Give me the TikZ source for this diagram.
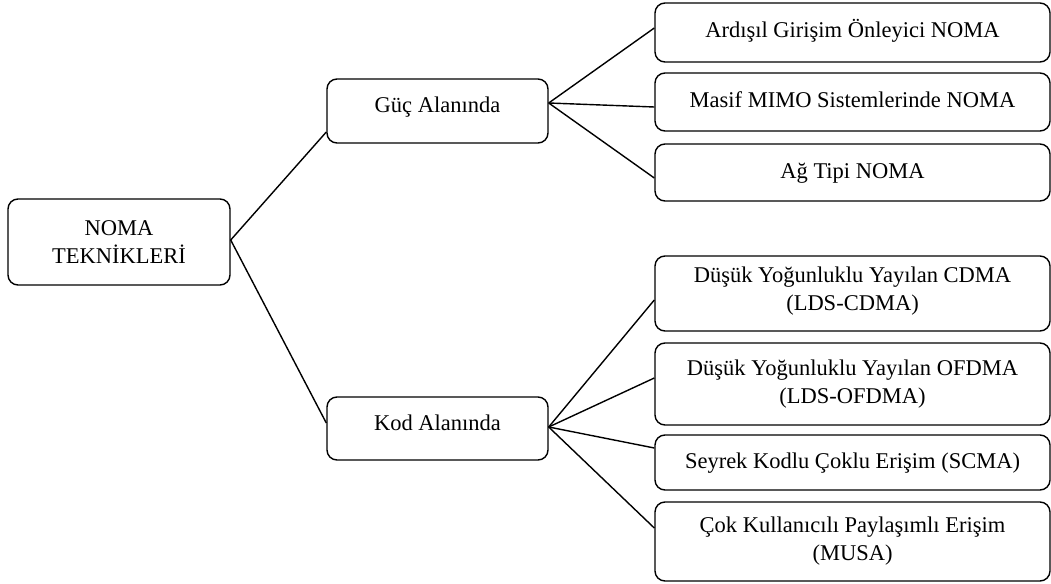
\documentclass[tikz,border=0pt]{standalone}
\usepackage{fontspec}
\setmainfont{Liberation Serif}
\begin{document}
\begin{tikzpicture}[x=1pt,y=-1pt,
  box/.style={draw=black, line width=1.4pt, rounded corners=10pt, inner sep=0pt, align=center, font=\fontsize{22.5}{28}\selectfont},
  mid/.style={box, minimum width=221pt, text height=15pt, text depth=12pt},
  leaf/.style={box, minimum width=395pt},
  one/.style={text height=16pt, text depth=5pt},
  conn/.style={line width=1.4pt}]
\useasboundingbox (0,0) rectangle (1051,583);
% root
\node[box, minimum width=222pt, minimum height=86pt] (root) at (119,242) {NOMA\\TEKNİKLERİ};
% middle level
\node[mid, minimum height=64pt] (guc) at (437.5,111) {Güç Alanında};
\node[mid, minimum height=63pt] (kod) at (437.5,428.5) {Kod Alanında};
% leaves (power domain)
\node[leaf, one, minimum height=59pt] (r1) at (852.5,32.5) {Ardışıl Girişim Önleyici NOMA};
\node[leaf, one, minimum height=58pt] (r2) at (852.5,102) {Masif MIMO Sistemlerinde NOMA};
\node[leaf, one, minimum height=57pt] (r3) at (852.5,172.5) {Ağ Tipi NOMA};
% leaves (code domain)
\node[leaf, minimum height=75pt, text depth=9pt] (r4) at (852.5,293.5) {Düşük Yoğunluklu Yayılan CDMA\\(LDS-CDMA)};
\node[leaf, minimum height=82pt] (r5) at (852.5,384) {Düşük Yoğunluklu Yayılan OFDMA\\(LDS-OFDMA)};
\node[leaf, one, minimum height=55pt] (r6) at (852.5,462.5) {Seyrek Kodlu Çoklu Erişim (SCMA)};
\node[leaf, minimum height=79pt] (r7) at (852.5,541.5) {Çok Kullanıcılı Paylaşımlı Erişim\\(MUSA)};
% connectors
\draw[conn] ([yshift=2pt]root.east) -- ([yshift=-21pt]guc.west);
\draw[conn] ([yshift=2pt]root.east) -- ([yshift=5.5pt]kod.west);
\draw[conn] ([yshift=8pt]guc.east) -- ([yshift=4.5pt]r1.west);
\draw[conn] ([yshift=8pt]guc.east) -- ([yshift=-5pt]r2.west);
\draw[conn] ([yshift=8pt]guc.east) -- ([yshift=-5.5pt]r3.west);
\draw[conn] ([yshift=1.5pt]kod.east) -- ([yshift=-6.5pt]r4.west);
\draw[conn] ([yshift=1.5pt]kod.east) -- ([yshift=6pt]r5.west);
\draw[conn] ([yshift=1.5pt]kod.east) -- ([yshift=14.5pt]r6.west);
\draw[conn] ([yshift=1.5pt]kod.east) -- ([yshift=13.5pt]r7.west);
\end{tikzpicture}
\end{document}
